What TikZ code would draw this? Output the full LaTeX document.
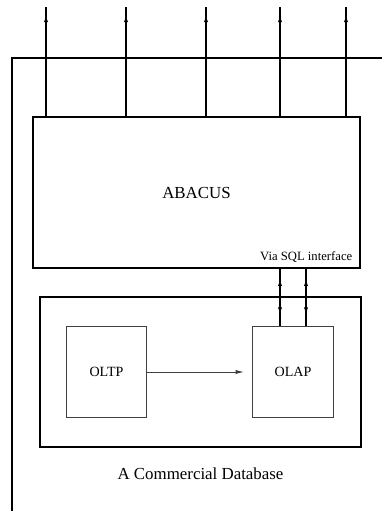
\documentclass[tikz,border=0pt]{standalone}
\usepackage{fontspec}
\setmainfont{Liberation Serif}
\usepackage{tikz}
\usetikzlibrary{arrows.meta, positioning, decorations.markings}
\tikzset{
  bigbox/.style={rectangle, draw=black, line width=1.3pt, inner sep=0pt},
  smallbox/.style={rectangle, draw=black!75, line width=0.7pt, inner sep=0pt,
                   minimum width=2.02cm, minimum height=2.25cm, font=\normalsize},
  busline/.style={line width=1.3pt, draw=black},
  uparrow/.style={line width=1.1pt, postaction={decorate},
    decoration={markings, mark=at position -0.2cm with {\arrow{Latex[length=5pt,width=3pt]}}}},
  twoway/.style={line width=1.1pt, postaction={decorate},
    decoration={markings,
      mark=at position 0.25cm with {\arrowreversed{Latex[length=5pt,width=3pt]}},
      mark=at position -0.3cm with {\arrow{Latex[length=5pt,width=3pt]}}}},
  flow/.style={-{Latex[length=6pt,width=3pt]}, line width=0.7pt, draw=black!75},
}

\begin{document}
\begin{tikzpicture}[x=0.025cm, y=-0.025cm]

  \useasboundingbox (0,0) rectangle (382,511);

  %% main blocks
  \node[bigbox, minimum width=8.175cm, minimum height=3.775cm] (abacus) at (196.5,192.5) {};
  \node[font=\large] (abacustxt) at (abacus.center) {ABACUS};
  \node[anchor=south east, font=\small, inner xsep=6pt, inner ysep=4pt] (sql) at (abacus.south east) {Via SQL interface};

  \node[bigbox, minimum width=8.025cm, minimum height=3.75cm] (db) at (200.5,372) {};
  \node[below=0.38cm of db, font=\large] (dbtxt) {A Commercial Database};

  \node[smallbox] (oltp) at (106.5,372) {OLTP};
  \node[smallbox] (olap) at (293,372) {OLAP};

  %% bus
  \coordinate (busleft) at (12,58);
  \coordinate (busright) at (382,58);
  \coordinate (busbottom) at (12,511);
  \draw[busline] (busbottom) -- (busleft) -- (busright);

  %% outputs
  \foreach \x [count=\i] in {46,126,206,280,346} {
    \coordinate (out\i) at (\x,7);
    \draw[uparrow] (abacus.north -| out\i) -- (out\i);
  }

  %% SQL links
  \coordinate (sqla) at (280,0);
  \coordinate (sqlb) at (306,0);
  \draw[twoway] (abacus.south -| sqla) -- (olap.north -| sqla);
  \draw[twoway] (abacus.south -| sqlb) -- (olap.north -| sqlb);

  %% OLTP to OLAP
  \draw[flow, shorten >=0.2cm] (oltp) -- (olap);

\end{tikzpicture}
\end{document}
